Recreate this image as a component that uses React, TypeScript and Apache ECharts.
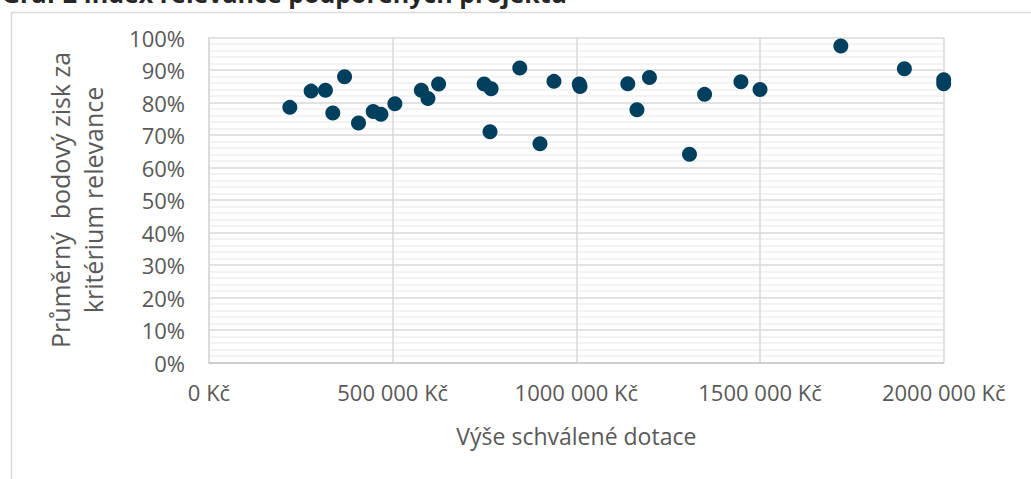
import React, { useEffect, useRef } from "react";
import * as echarts from "echarts";

const titleText = "Graf 2 Index relevance podpořených projektů";
const xAxisName = "Výše schválené dotace";
const yAxisName = "Průměrný  bodový zisk za\nkritérium relevance";

// Výše schválené dotace (Kč)
const grantAmounts = [
  220000, 278000, 317000, 369000, 337000, 407000, 447000, 468000, 506000,
  578000, 596000, 625000, 749000, 768000, 765000, 846000, 901000, 939000,
  1008000, 1010000, 1140000, 1199000, 1165000, 1349000, 1308000, 1448000,
  1500000, 1720000, 1893000, 2000000, 2000000,
];
// Průměrný bodový zisk (podíl)
const relevanceScores = [
  0.785, 0.835, 0.8375, 0.879, 0.768, 0.737, 0.772, 0.764, 0.796,
  0.838, 0.812, 0.857, 0.857, 0.842, 0.71, 0.906, 0.673, 0.865,
  0.857, 0.849, 0.858, 0.877, 0.778, 0.825, 0.641, 0.864,
  0.84, 0.974, 0.904, 0.87, 0.858,
];

const FONT = "'Open Sans', 'Noto Sans', sans-serif";

export default function App() {
  const ref = useRef<HTMLDivElement>(null);
  useEffect(() => {
    if (!ref.current) return;
    const chart = echarts.init(ref.current, null, { renderer: "svg" });
    const data = grantAmounts.map((x, i) => [x, relevanceScores[i]]);
    chart.setOption({
      animation: false,
      backgroundColor: "#ffffff",
      textStyle: { fontFamily: FONT },
      graphic: [
        {
          type: "rect",
          left: 9,
          top: 10,
          shape: { x: 0, y: 0, width: 1100, height: 600 },
          style: { fill: "none", stroke: "#d9d9d9", lineWidth: 1.5 },
          silent: true,
          z: -10,
        },
        {
          type: "text",
          x: 2,
          y: -20,
          style: {
            text: titleText,
            fontFamily: FONT,
            fontSize: 25,
            fontWeight: "bold",
            fill: "#262626",
          },
        },
      ],
      grid: { left: 209, right: 87.3, top: 37.5, bottom: 116.5 },
      xAxis: {
        type: "value",
        min: 0,
        max: 2000000,
        interval: 500000,
        name: xAxisName,
        nameLocation: "middle",
        nameGap: 62,
        nameTextStyle: { color: "#595959", fontSize: 23, fontFamily: FONT },
        axisLine: { show: true, lineStyle: { color: "#c8c8c8", width: 1.5 } },
        axisTick: { show: false },
        axisLabel: {
          color: "#595959",
          fontSize: 22,
          margin: 18,
          fontFamily: FONT,
          formatter: (v: number) =>
            v === 0 ? "0 Kč" : `${Math.round(v / 1000)} 000 Kč`,
        },
        splitLine: { show: true, lineStyle: { color: "#d9d9d9", width: 1.5 } },
      },
      yAxis: {
        type: "value",
        min: 0,
        max: 1,
        interval: 0.1,
        name: yAxisName,
        nameLocation: "middle",
        nameRotate: 90,
        nameGap: 100,
        nameTextStyle: {
          color: "#595959",
          fontSize: 25,
          lineHeight: 33,
          fontFamily: FONT,
          align: "center",
        },
        axisLine: { show: true, lineStyle: { color: "#d9d9d9", width: 1.5 } },
        axisTick: { show: false },
        axisLabel: {
          color: "#595959",
          fontSize: 22,
          margin: 24,
          fontFamily: FONT,
          formatter: (v: number) => `${Math.round(v * 100)}%`,
        },
        splitLine: { show: true, lineStyle: { color: "#d9d9d9", width: 1.5 } },
        minorTick: { show: false, splitNumber: 5 },
        minorSplitLine: { show: true, lineStyle: { color: "#efefef", width: 1.5 } },
      },
      series: [
        {
          type: "scatter",
          data,
          symbol: "circle",
          symbolSize: 15,
          clip: false,
          itemStyle: { color: "#00405e", opacity: 1 },
        },
      ],
    });
    return () => chart.dispose();
  }, []);
  return (
    <div
      ref={ref}
      style={{ position: "absolute", left: 0, top: 0, width: 1031, height: 479 }}
    />
  );
}
